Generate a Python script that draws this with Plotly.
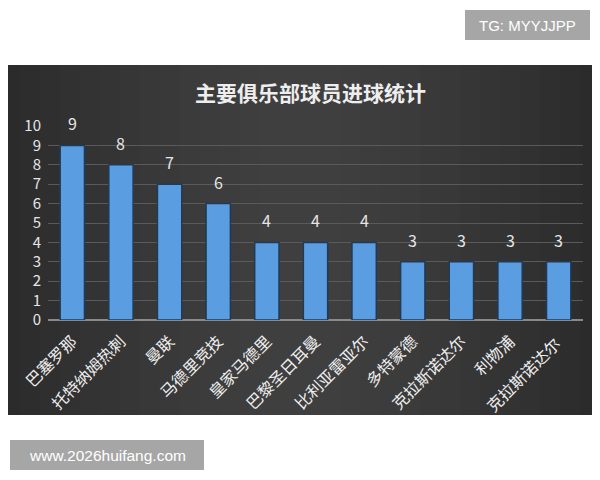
import plotly.graph_objects as go

clubs = ["巴塞罗那", "托特纳姆热刺", "曼联", "马德里竞技", "皇家马德里", "巴黎圣日耳曼",
         "比利亚雷亚尔", "多特蒙德", "克拉斯诺达尔", "利物浦", "克拉斯诺达尔 "]
goals = [9, 8, 7, 6, 4, 4, 4, 3, 3, 3, 3]
y_ticks = [0, 1, 2, 3, 4, 5, 6, 7, 8, 9, 10]
title_text = "主要俱乐部球员进球统计"

# page has an 8px body margin; work in page pixel coordinates
OFF = 8
W, H = 600, 480
L, R, T, B = 48 - OFF, 600 - 583 + OFF, 126 - OFF, 480 - 320 + OFF
pw, ph = W - L - R, H - T - B

def px(x):
    return (x - OFF - L) / pw

def py(y):
    return (H - B - (y - OFF)) / ph

font = "Noto Sans CJK SC, Noto Sans, sans-serif"

fig = go.Figure(go.Bar(
    x=list(range(len(clubs))), y=goals,
    marker=dict(color="#5a9de0", line=dict(color="#203a58", width=1.5)),
    width=0.5,
))

# dark panel with a soft horizontal gradient (darker edges, lighter centre)
shapes = []
n = 30
for i in range(n):
    t = (i + 0.5) / n
    v = int(42 + 22 * (1 - abs(2 * t - 1) ** 1.5))
    shapes.append(dict(type="rect", xref="paper", yref="paper",
                       x0=px(600 * i / n), x1=px(600 * (i + 1) / n + 0.5),
                       y0=py(415), y1=py(65),
                       fillcolor=f"rgb({v},{v},{v})", line=dict(width=0), layer="below"))
shapes += [
    dict(type="rect", xref="paper", yref="paper", x0=px(465), x1=px(590), y0=py(40), y1=py(10),
         fillcolor="#a6a6a6", line=dict(width=0), layer="below"),
    dict(type="rect", xref="paper", yref="paper", x0=px(10), x1=px(204), y0=py(470), y1=py(440),
         fillcolor="#a6a6a6", line=dict(width=0), layer="below"),
]

annotations = [
    dict(text=title_text, xref="paper", yref="paper", x=px(310), y=py(92), showarrow=False,
         xanchor="center", yanchor="middle",
         font=dict(color="#eeeeee", size=21, family=font, weight="bold")),
    dict(text="TG: MYYJJPP", xref="paper", yref="paper", x=px(527.5), y=py(25), showarrow=False,
         xanchor="center", yanchor="middle",
         font=dict(color="#ffffff", size=15, family="Liberation Sans, Arial, sans-serif")),
    dict(text="www.2026huifang.com", xref="paper", yref="paper", x=px(107), y=py(455), showarrow=False,
         xanchor="center", yanchor="middle",
         font=dict(color="#ffffff", size=15.5, family="Liberation Sans, Arial, sans-serif")),
]
# value labels above bars
for i, g in enumerate(goals):
    annotations.append(dict(text=str(g), x=i, y=g, xref="x", yref="y", showarrow=False,
                            xanchor="center", yanchor="bottom", yshift=8,
                            font=dict(color="#e6e6e6", size=16, family=font)))

fig.update_layout(
    width=W, height=H, margin=dict(l=L, r=R, t=T, b=B, autoexpand=False),
    paper_bgcolor="white", plot_bgcolor="rgba(0,0,0,0)",
    shapes=shapes, annotations=annotations, showlegend=False,
    xaxis=dict(tickvals=list(range(len(clubs))), ticktext=clubs, tickangle=-45,
               tickfont=dict(color="#eeeeee", size=16, family=font),
               range=[-0.5, len(clubs) - 0.5], showgrid=False, zeroline=False,
               showline=False, ticks="", automargin=False, ticklabelstandoff=8),
    yaxis=dict(range=[0, 10], tickvals=y_ticks, gridcolor="#5a5a5a", gridwidth=1,
               tickfont=dict(color="#e6e6e6", size=15, family=font),
               zeroline=True, zerolinecolor="#8a8a8a", zerolinewidth=2, ticks="",
               ticklabelstandoff=6, automargin=False),
)

fig.write_html("out.html")
